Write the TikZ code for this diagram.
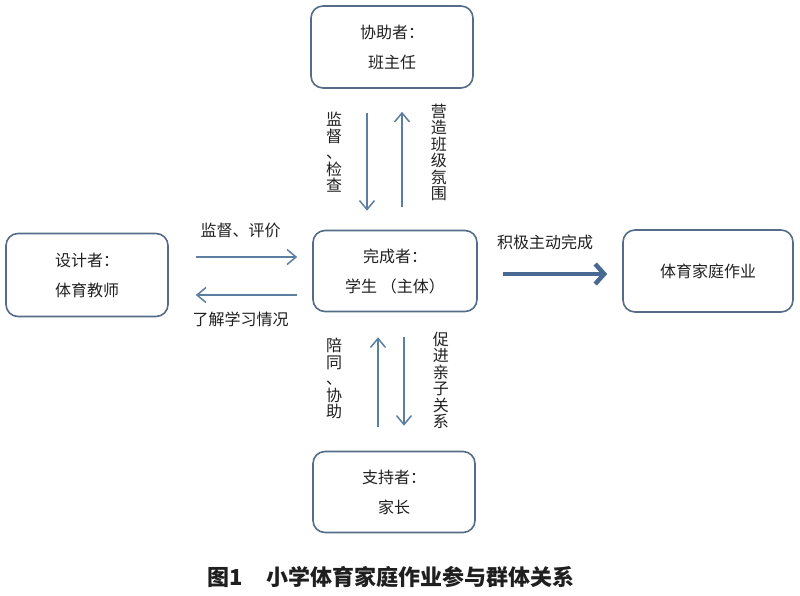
\documentclass[tikz,border=0pt]{standalone}
\usepackage{fontspec}
\newfontfamily\cjk{Noto Sans CJK SC}
\usetikzlibrary{arrows.meta,positioning}
\definecolor{boxline}{RGB}{84,108,136}
\definecolor{arrline}{RGB}{92,126,160}
\definecolor{bigarr}{RGB}{72,106,146}
\tikzset{
  role/.style={draw=boxline, line width=1.6pt, rounded corners=12pt, minimum width=162pt, minimum height=82pt, align=center, font=\cjk\fontsize{16}{30}\selectfont, text=black!88},
  flow/.style={draw=arrline, line width=1.5pt, -{Straight Barb[length=9pt,width=15pt]}},
  vlabel/.style={align=center, font=\cjk\fontsize{16}{16.5}\selectfont, text=black!88},
  hlabel/.style={font=\cjk\fontsize{16}{20}\selectfont, text=black!88}
}
\begin{document}
\begin{tikzpicture}[x=1pt,y=-1pt]
	\useasboundingbox (0,0) rectangle (800,595);
	% the roles
	\node[role] (head) at (392,47) {协助者：\\班主任};
	\node[role, minimum width=164pt, minimum height=81pt] (student) at (395,271) {完成者：\\学生 （主体）};
	\node[role, minimum height=83pt] (teacher) at (87,275) {设计者：\\体育教师};
	\node[role, minimum width=170pt] (homework) at (708,271) {体育家庭作业};
	\node[role, minimum height=81pt] (parent) at (394,492) {支持者：\\家长};
	% teacher and student
	\draw[flow, shorten <=27pt, shorten >=15pt] ([yshift=18pt]teacher.east) -- node[hlabel, above=15pt] {监督、评价} ([yshift=18pt]teacher.east -| student.west);
	\draw[flow, shorten <=15pt, shorten >=27pt] ([yshift=-20pt]teacher.east -| student.west) -- node[hlabel, below=13pt] {了解学习情况} ([yshift=-20pt]teacher.east);
	% head teacher and student
	\draw[flow, shorten <=24pt, shorten >=19pt] ([xshift=-25pt]head.south) -- node[vlabel, left=20.7pt, yshift=7pt] {监\\督\\、\\检\\查} ([xshift=-25pt]head.south |- student.north);
	\draw[flow, shorten <=23pt, shorten >=23pt] ([xshift=10pt]head.south |- student.north) -- node[vlabel, right=24.7pt, yshift=7pt] {营\\造\\班\\级\\氛\\围} ([xshift=10pt]head.south);
	% parent and student
	\draw[flow, shorten <=24pt, shorten >=25pt] ([xshift=-16pt]parent.north) -- node[vlabel, left=31.7pt, yshift=3pt] {陪\\同\\、\\协\\助} ([xshift=-16pt]parent.north |- student.south);
	\draw[flow, shorten <=25pt, shorten >=25pt] ([xshift=10pt]parent.north |- student.south) -- node[vlabel, right=24.7pt, yshift=1pt] {促\\进\\亲\\子\\关\\系} ([xshift=10pt]parent.north);
	% student and homework
	\draw[flow, draw=bigarr, line width=4.5pt, -{Straight Barb[length=9pt,width=20pt]}, shorten <=25pt, shorten >=15pt] ([yshift=-3pt]student.east) -- node[hlabel, above=19pt, xshift=-5pt] {积极主动完成} ([yshift=-3pt]student.east -| homework.west);
	% caption
	\node[font=\cjk\bfseries\fontsize{22}{26}\selectfont, text=black!88] (caption) at (391,577) {图1\hspace{23pt}小学体育家庭作业参与群体关系};
\end{tikzpicture}
\end{document}
